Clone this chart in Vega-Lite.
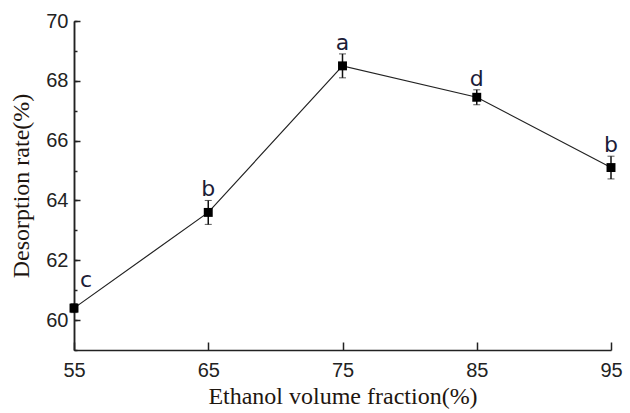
{
  "$schema": "https://vega.github.io/schema/vega-lite/v6.json",
  "autosize": "none",
  "padding": {"left": 74, "top": 21, "right": 19, "bottom": 63},
  "width": 537,
  "height": 329,
  "background": "white",
  "config": {"view": {"stroke": null}},
  "data": {"values": [
    {"fraction": 55, "rate": 60.4, "err": 0.15, "group": "c"},
    {"fraction": 65, "rate": 63.6, "err": 0.4, "group": "b"},
    {"fraction": 75, "rate": 68.5, "err": 0.4, "group": "a"},
    {"fraction": 85, "rate": 67.45, "err": 0.25, "group": "d"},
    {"fraction": 95, "rate": 65.1, "err": 0.38, "group": "b"}
  ]},
  "layer": [
    {
      "mark": {"type": "line", "color": "#222", "strokeWidth": 1.2},
      "encoding": {
        "x": {"field": "fraction", "type": "quantitative",
          "scale": {"domain": [55, 95], "nice": false, "zero": false},
          "axis": {"values": [55, 65, 75, 85, 95], "title": "Ethanol volume fraction(%)",
            "grid": false, "domainColor": "#222", "domainWidth": 1.5, "tickColor": "#222", "tickWidth": 1.5,
            "tickSize": -8, "labelPadding": 18, "labelFont": "Liberation Sans", "labelFontSize": 20,
            "labelColor": "#222", "labelFlush": false,
            "titleFont": "Liberation Serif", "titleFontSize": 24, "titleFontWeight": "normal",
            "titleColor": "#1e1610", "titlePadding": 4}},
        "y": {"field": "rate", "type": "quantitative",
          "scale": {"domain": [59, 70], "nice": false, "zero": false},
          "axis": {"values": [59, 60, 61, 62, 63, 64, 65, 66, 67, 68, 69, 70], "orient": "left",
            "labels": false, "title": null, "grid": false, "domainColor": "#222", "domainWidth": 1.5,
            "tickColor": "#222", "tickWidth": 1.5, "tickSize": -3}}
      }
    },
    {
      "mark": {"type": "errorbar", "ticks": {"size": 7, "color": "#111", "strokeWidth": 1.5}, "rule": {"color": "#111", "strokeWidth": 1.5}},
      "encoding": {
        "x": {"field": "fraction", "type": "quantitative", "axis": null},
        "y": {"field": "rate", "type": "quantitative", "scale": {"domain": [59, 70], "nice": false, "zero": false},
          "axis": {"values": [60, 62, 64, 66, 68, 70], "orient": "left", "title": "Desorption rate(%)",
            "grid": false, "domainColor": "#222", "domainWidth": 1.5, "tickColor": "#222", "tickWidth": 1.5,
            "tickSize": -6, "labelPadding": 12, "labelFont": "Liberation Sans", "labelFontSize": 20,
            "labelColor": "#222", "labelFlush": false,
            "titleFont": "Liberation Serif", "titleFontSize": 24, "titleFontWeight": "normal",
            "titleColor": "#1e1610", "titlePadding": 12}},
        "yError": {"field": "err"}
      }
    },
    {
      "mark": {"type": "point", "shape": "square", "filled": true, "size": 80, "color": "#000", "opacity": 1},
      "encoding": {
        "x": {"field": "fraction", "type": "quantitative", "axis": null},
        "y": {"field": "rate", "type": "quantitative", "axis": null}
      }
    },
    {
      "transform": [{"filter": "datum.fraction > 55"}, {"calculate": "datum.rate + datum.err", "as": "top"}],
      "mark": {"type": "text", "font": "DejaVu Sans", "fontSize": 22, "color": "#1c1c38", "baseline": "alphabetic", "dy": -4},
      "encoding": {
        "x": {"field": "fraction", "type": "quantitative", "axis": null},
        "text": {"field": "group"},
        "y": {"field": "top", "type": "quantitative", "axis": null}
      }
    },
    {
      "transform": [{"filter": "datum.fraction == 55"}],
      "mark": {"type": "text", "font": "DejaVu Sans", "fontSize": 22, "color": "#1c1c38", "baseline": "alphabetic", "align": "left", "dx": 6, "dy": -21},
      "encoding": {
        "x": {"field": "fraction", "type": "quantitative", "axis": null},
        "text": {"field": "group"},
        "y": {"field": "rate", "type": "quantitative", "axis": null}
      }
    }
  ],
  "resolve": {"axis": {"y": "independent", "x": "independent"}}
}
